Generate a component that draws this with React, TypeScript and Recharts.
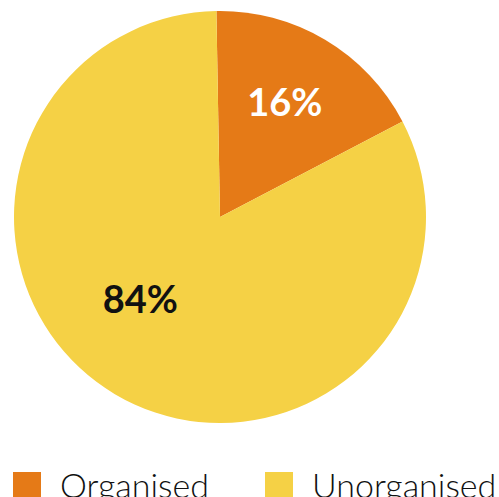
import { Cell, Legend, Pie, PieChart } from 'recharts'

// slice shares as drawn (the wedge reads a bit wider than its printed label)
const categories = ['Organised', 'Unorganised']
const shares = [17.6, 82.4]
const labels = ['16%', '84%']
const colors = ['#E57A17', '#F5D145']
const labelColors = ['#FFFFFF', '#111111']

const data = categories.map((name, i) => ({ name, value: shares[i] }))

// nudge each label inside its slice
const labelRadius = [0.645, 0.55]
const labelShift = [1.5, -14]

const RADIAN = Math.PI / 180

function SliceLabel(props: any) {
  const { cx, cy, midAngle, outerRadius, index } = props
  const r = outerRadius * labelRadius[index]
  const a = (midAngle + labelShift[index]) * RADIAN
  const x = cx + r * Math.cos(a)
  const y = cy - r * Math.sin(a)
  return (
    <text
      x={x}
      y={y}
      fill={labelColors[index]}
      textAnchor="middle"
      dominantBaseline="central"
      fontFamily="Lato, sans-serif"
      fontWeight={700}
      fontSize={38}
    >
      {labels[index]}
    </text>
  )
}

function LegendContent(props: any) {
  const { payload } = props
  return (
    <div style={{ display: 'flex', alignItems: 'flex-start' }}>
      {(payload || []).map((entry: any, i: number) => (
        <div key={entry.value} style={{ display: 'flex', alignItems: 'flex-start', width: i === 0 ? 252 : 240 }}>
          <span style={{ display: 'inline-block', flex: 'none', width: 28, height: 28, background: colors[i], marginTop: 2 }} />
          <span
            style={{
              marginLeft: 19,
              fontFamily: 'Lato, sans-serif',
              fontWeight: 300,
              fontSize: 34,
              lineHeight: '30px',
              color: '#111',
              whiteSpace: 'nowrap',
            }}
          >
            {entry.value}
          </span>
        </div>
      ))}
    </div>
  )
}

export default function App() {
  return (
    <div style={{ position: 'absolute', left: 0, top: 0, width: 499, height: 497, overflow: 'hidden', background: '#fff' }}>
      <PieChart width={499} height={497} margin={{ top: 0, right: 0, bottom: 0, left: 0 }}>
        <Pie
          data={data}
          dataKey="value"
          nameKey="name"
          cx={220}
          cy={217}
          outerRadius={206}
          startAngle={91}
          endAngle={-269}
          stroke="none"
          label={SliceLabel}
          labelLine={false}
          isAnimationActive={false}
        >
          {data.map((d, i) => (
            <Cell key={d.name} fill={colors[i]} />
          ))}
        </Pie>
        <Legend content={LegendContent} wrapperStyle={{ left: 13, top: 470, width: 499 }} />
      </PieChart>
    </div>
  )
}
